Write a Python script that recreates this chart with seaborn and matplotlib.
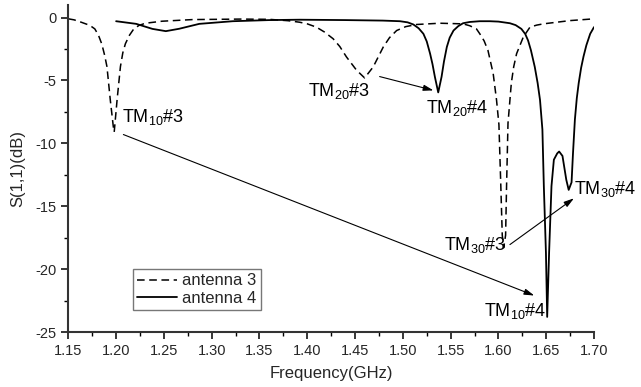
import matplotlib
matplotlib.use("Agg")
import matplotlib.pyplot as plt
import seaborn as sns
import pandas as pd
from matplotlib.ticker import MultipleLocator, FormatStrFormatter

# ---------------- data ----------------
freq_ant3 = [1.150, 1.156, 1.1635, 1.170, 1.174, 1.1777, 1.1815, 1.185, 1.188, 1.1904,
             1.1939, 1.1974, 1.198, 1.201, 1.2045, 1.207, 1.2097, 1.214, 1.2185, 1.224,
             1.2307, 1.248, 1.280, 1.330, 1.360, 1.380, 1.392, 1.400, 1.4095, 1.418,
             1.427, 1.434, 1.441, 1.4515, 1.460, 1.469, 1.4795, 1.486, 1.4935, 1.503,
             1.5145, 1.5387, 1.563, 1.570, 1.577, 1.5805, 1.585, 1.589, 1.5945, 1.598,
             1.6005, 1.6025, 1.604, 1.6055, 1.6075, 1.6085, 1.610, 1.6135, 1.616, 1.619,
             1.626, 1.633, 1.640, 1.647, 1.675, 1.700]
s11_ant3 = [-0.10, -0.18, -0.37, -0.55, -0.70, -0.90, -1.40, -2.10, -3.00, -3.90,
            -6.55, -8.90, -9.10, -6.55, -3.90, -2.80, -2.08, -1.40, -0.90, -0.62,
            -0.45, -0.29, -0.16, -0.12, -0.14, -0.25, -0.37, -0.50, -0.76, -1.15,
            -1.68, -2.30, -3.13, -4.18, -4.80, -3.92, -2.34, -1.60, -1.03, -0.72,
            -0.55, -0.45, -0.50, -0.65, -0.90, -1.29, -1.85, -2.60, -4.45, -6.55,
            -8.50, -13.4, -17.3, -18.3, -17.3, -13.4, -8.40, -5.20, -3.90, -2.87,
            -1.55, -0.76, -0.60, -0.50, -0.24, -0.10]

freq_ant4 = [1.200, 1.221, 1.238, 1.252, 1.266, 1.287, 1.322, 1.360, 1.392, 1.440,
             1.479, 1.497, 1.505, 1.511, 1.5165, 1.5215, 1.525, 1.5285, 1.531, 1.5335,
             1.537, 1.5405, 1.543, 1.546, 1.549, 1.553, 1.558, 1.563, 1.570, 1.5805,
             1.591, 1.600, 1.612, 1.618, 1.624, 1.628, 1.631, 1.634, 1.638, 1.641,
             1.6435, 1.646, 1.6475, 1.6497, 1.651, 1.653, 1.6555, 1.658, 1.6615, 1.6635,
             1.667, 1.671, 1.6735, 1.6765, 1.678, 1.680, 1.682, 1.684, 1.6865, 1.689,
             1.692, 1.696, 1.700]
s11_ant4 = [-0.29, -0.50, -0.90, -1.08, -0.89, -0.50, -0.29, -0.20, -0.17, -0.20,
            -0.24, -0.29, -0.38, -0.55, -0.85, -1.29, -1.90, -2.87, -3.70, -4.71,
            -5.95, -4.71, -3.50, -2.34, -1.60, -1.03, -0.68, -0.45, -0.35, -0.29,
            -0.29, -0.32, -0.45, -0.60, -0.90, -1.30, -1.82, -2.60, -3.92, -5.20,
            -6.55, -8.90, -13.4, -18.7, -23.8, -18.7, -13.4, -11.3, -10.8, -10.65,
            -11.0, -12.9, -13.7, -13.1, -10.8, -8.10, -6.40, -5.20, -4.00, -3.10,
            -2.20, -1.29, -0.76]

series_labels = ["antenna 3", "antenna 4"]
x_ticks = [1.15, 1.20, 1.25, 1.30, 1.35, 1.40, 1.45, 1.50, 1.55, 1.60, 1.65, 1.70]
y_ticks = [0, -5, -10, -15, -20, -25]

mode_labels = [r"TM$_{10}$#3", r"TM$_{20}$#3", r"TM$_{20}$#4",
               r"TM$_{30}$#3", r"TM$_{30}$#4", r"TM$_{10}$#4"]
label_pos = [(1.2065, -8.32), (1.4005, -6.27), (1.5245, -7.58),
             (1.5433, -18.5), (1.6795, -14.03), (1.5845, -23.76)]
arrows = [((1.2076, -9.3), (1.6375, -22.1)),
          ((1.4757, -4.69), (1.532, -5.79)),
          ((1.612, -18.05), (1.679, -14.37))]

# ---------------- style ----------------
sns.set_style("ticks")
plt.rcParams["font.family"] = ["Liberation Sans", "DejaVu Sans"]
plt.rcParams["mathtext.fontset"] = "custom"
plt.rcParams["mathtext.rm"] = "Liberation Sans"
plt.rcParams["mathtext.it"] = "Liberation Sans:italic"
plt.rcParams["mathtext.bf"] = "Liberation Sans:bold"
plt.rcParams["axes.unicode_minus"] = False

fig = plt.figure(figsize=(6.41, 3.87), dpi=100)
ax = fig.add_axes([0.1066, 0.1421, 0.8201, 0.8450])

df3 = pd.DataFrame({"Frequency": freq_ant3, "S11": s11_ant3})
df4 = pd.DataFrame({"Frequency": freq_ant4, "S11": s11_ant4})
sns.lineplot(data=df3, x="Frequency", y="S11", ax=ax, color="black", lw=1.1,
             linestyle=(0, (5, 3)), label=series_labels[0], estimator=None, sort=False)
sns.lineplot(data=df4, x="Frequency", y="S11", ax=ax, color="black", lw=1.3,
             linestyle="-", label=series_labels[1], estimator=None, sort=False)

ax.set_xlim(1.15, 1.70)
ax.set_ylim(-25, 1)
ax.set_xticks(x_ticks)
ax.set_yticks(y_ticks)
ax.xaxis.set_major_formatter(FormatStrFormatter("%.2f"))
ax.xaxis.set_minor_locator(MultipleLocator(0.025))
ax.yaxis.set_minor_locator(MultipleLocator(2.5))
ax.tick_params(which="major", direction="out", length=5, width=1.1, labelsize=10.5, color="black")
ax.tick_params(which="minor", direction="out", length=3, width=1.0, color="black")
sns.despine(ax=ax)
for s in ("left", "bottom"):
    ax.spines[s].set_linewidth(1.5)
    ax.spines[s].set_color("#333333")

ax.set_xlabel("Frequency(GHz)", fontsize=12, labelpad=6)
ax.set_ylabel("S(1,1)(dB)", fontsize=12, labelpad=7)

for txt, (tx, ty) in zip(mode_labels, label_pos):
    ax.text(tx, ty, txt, fontsize=13, ha="left", va="baseline", color="black")

for start, end in arrows:
    ax.annotate("", xy=end, xytext=start,
                arrowprops=dict(arrowstyle="-|>,head_length=0.6,head_width=0.18",
                                color="black", lw=0.8, mutation_scale=10,
                                shrinkA=0, shrinkB=0))

leg = ax.legend(loc="lower left", bbox_to_anchor=(0.123, 0.067), fontsize=12,
                frameon=True, fancybox=False, edgecolor="#777777", framealpha=1,
                handlelength=2.4, handletextpad=0.3, borderpad=0.25,
                labelspacing=0.15, borderaxespad=0)
leg.get_frame().set_linewidth(1.0)

fig.savefig("out.png", dpi=100)
